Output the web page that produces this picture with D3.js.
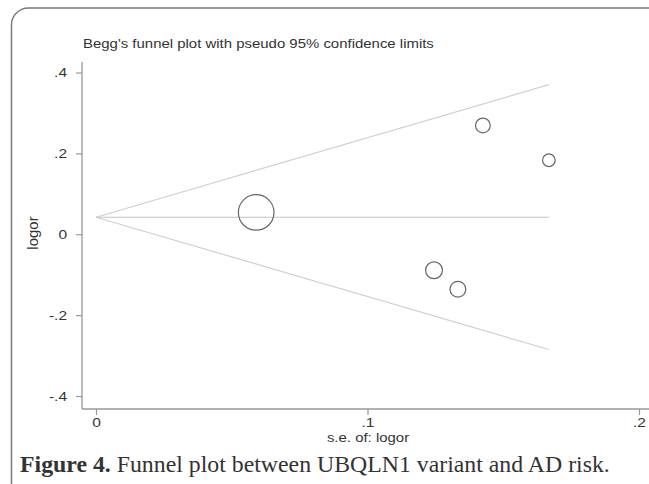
<!DOCTYPE html>
<html>
<head>
<meta charset="utf-8">
<script src="https://cdn.jsdelivr.net/npm/d3@7"></script>
<style>
  body { margin: 0; background: #fff; }
  text { font-family: "Liberation Sans", Arial, sans-serif; fill: #333; }
</style>
</head>
<body>
<svg width="649" height="484"></svg>
<script>
// study points
var studySe    = [0.059, 0.1245, 0.1333, 0.1425, 0.1668];
var studyLogor = [0.054, -0.089, -0.136, 0.269, 0.183];

// pooled estimate and pseudo 95% limits (endpoints)
var limitSe    = [0, 0.1668];
var pooled     = [0.042, 0.042];
var upperLimit = [0.042, 0.370];
var lowerLimit = [0.042, -0.285];

var xTicks = [0, 0.1, 0.2];
var xTickLabels = ["0", ".1", ".2"];
var yTicks = [0.4, 0.2, 0, -0.2, -0.4];
var yTickLabels = [".4", ".2", "0", "-.2", "-.4"];

var svg = d3.select("svg");
var SX = 1.15; // the sans text in the picture is a little wide

// frame round the figure
svg.append("path")
    .attr("d", "M11.5,484 V26 A17,17 0 0 1 28.5,8 H649")
    .attr("fill", "none")
    .attr("stroke", "#7a7a7a")
    .attr("stroke-width", 1.5);

var x = d3.scaleLinear().domain([0, 0.2]).range([96, 639]);
var y = d3.scaleLinear().domain([-0.4, 0.4]).range([396, 72.5]);
var r = d3.scaleSqrt().domain([0, 1 / (0.059 * 0.059)]).range([0, 17.8]);

var AXIS_X = 82, AXIS_Y = 409;

svg.append("g")
    .attr("transform", "translate(83,48) scale(" + SX + ",1)")
  .append("text")
    .attr("font-size", 13)
    .text("Begg's funnel plot with pseudo 95% confidence limits");

// axes
var yAxis = svg.append("g")
    .attr("transform", "translate(" + AXIS_X + ",0)")
    .call(d3.axisLeft(y).tickValues(yTicks).tickSize(6).tickPadding(7)
        .tickFormat((d, i) => yTickLabels[i]));
var xAxis = svg.append("g")
    .attr("transform", "translate(0," + AXIS_Y + ")")
    .call(d3.axisBottom(x).tickValues(xTicks).tickSize(6).tickPadding(2)
        .tickFormat((d, i) => xTickLabels[i]));

[yAxis, xAxis].forEach(function(a) {
  a.select(".domain").remove();
  a.selectAll("line").attr("stroke", "#999").attr("stroke-width", 1.2);
  a.selectAll("text").attr("font-size", 13.5).attr("fill", "#333")
      .style("font-family", "Liberation Sans, Arial, sans-serif");
});
yAxis.selectAll("text").attr("transform", "scale(" + SX + ",1)");
xAxis.selectAll("text").attr("transform", "scale(" + SX + ",1)");

svg.append("line")
    .attr("x1", AXIS_X).attr("x2", AXIS_X)
    .attr("y1", 62).attr("y2", AXIS_Y)
    .attr("stroke", "#999").attr("stroke-width", 1.3);
svg.append("line")
    .attr("x1", AXIS_X).attr("x2", 649)
    .attr("y1", AXIS_Y).attr("y2", AXIS_Y)
    .attr("stroke", "#999").attr("stroke-width", 1.3);

svg.append("text")
    .attr("transform", "translate(38,233) rotate(-90)")
    .attr("text-anchor", "middle")
    .attr("font-size", 15)
    .text("logor");
svg.append("g")
    .attr("transform", "translate(368,442) scale(" + SX + ",1)")
  .append("text")
    .attr("text-anchor", "middle")
    .attr("font-size", 13)
    .text("s.e. of: logor");

// funnel lines
var line = d3.line()
    .x(d => x(d[0]))
    .y(d => y(d[1]));

[[upperLimit, "#d0d0d0"], [lowerLimit, "#d0d0d0"], [pooled, "#c4c4c4"]].forEach(function(s) {
  svg.append("path")
      .datum(limitSe.map((se, i) => [se, s[0][i]]))
      .attr("d", line)
      .attr("fill", "none")
      .attr("stroke", s[1])
      .attr("stroke-width", 1.2);
});

// studies
svg.selectAll(".study")
    .data(studySe.map((se, i) => ({se: se, logor: studyLogor[i]})))
    .enter().append("circle")
    .attr("class", "study")
    .attr("cx", d => x(d.se))
    .attr("cy", d => y(d.logor))
    .attr("r", d => r(1 / (d.se * d.se)))
    .attr("fill", "none")
    .attr("stroke", "#666")
    .attr("stroke-width", 1.2);

// caption
var cap = svg.append("text")
    .attr("x", 20)
    .attr("y", 472)
    .style("font-family", "Liberation Serif, Times New Roman, serif")
    .attr("font-size", 23.8)
    .attr("fill", "#111");
cap.append("tspan").attr("font-weight", "bold").text("Figure 4.");
cap.append("tspan").text(" Funnel plot between UBQLN1 variant and AD risk.");
</script>
</body>
</html>
